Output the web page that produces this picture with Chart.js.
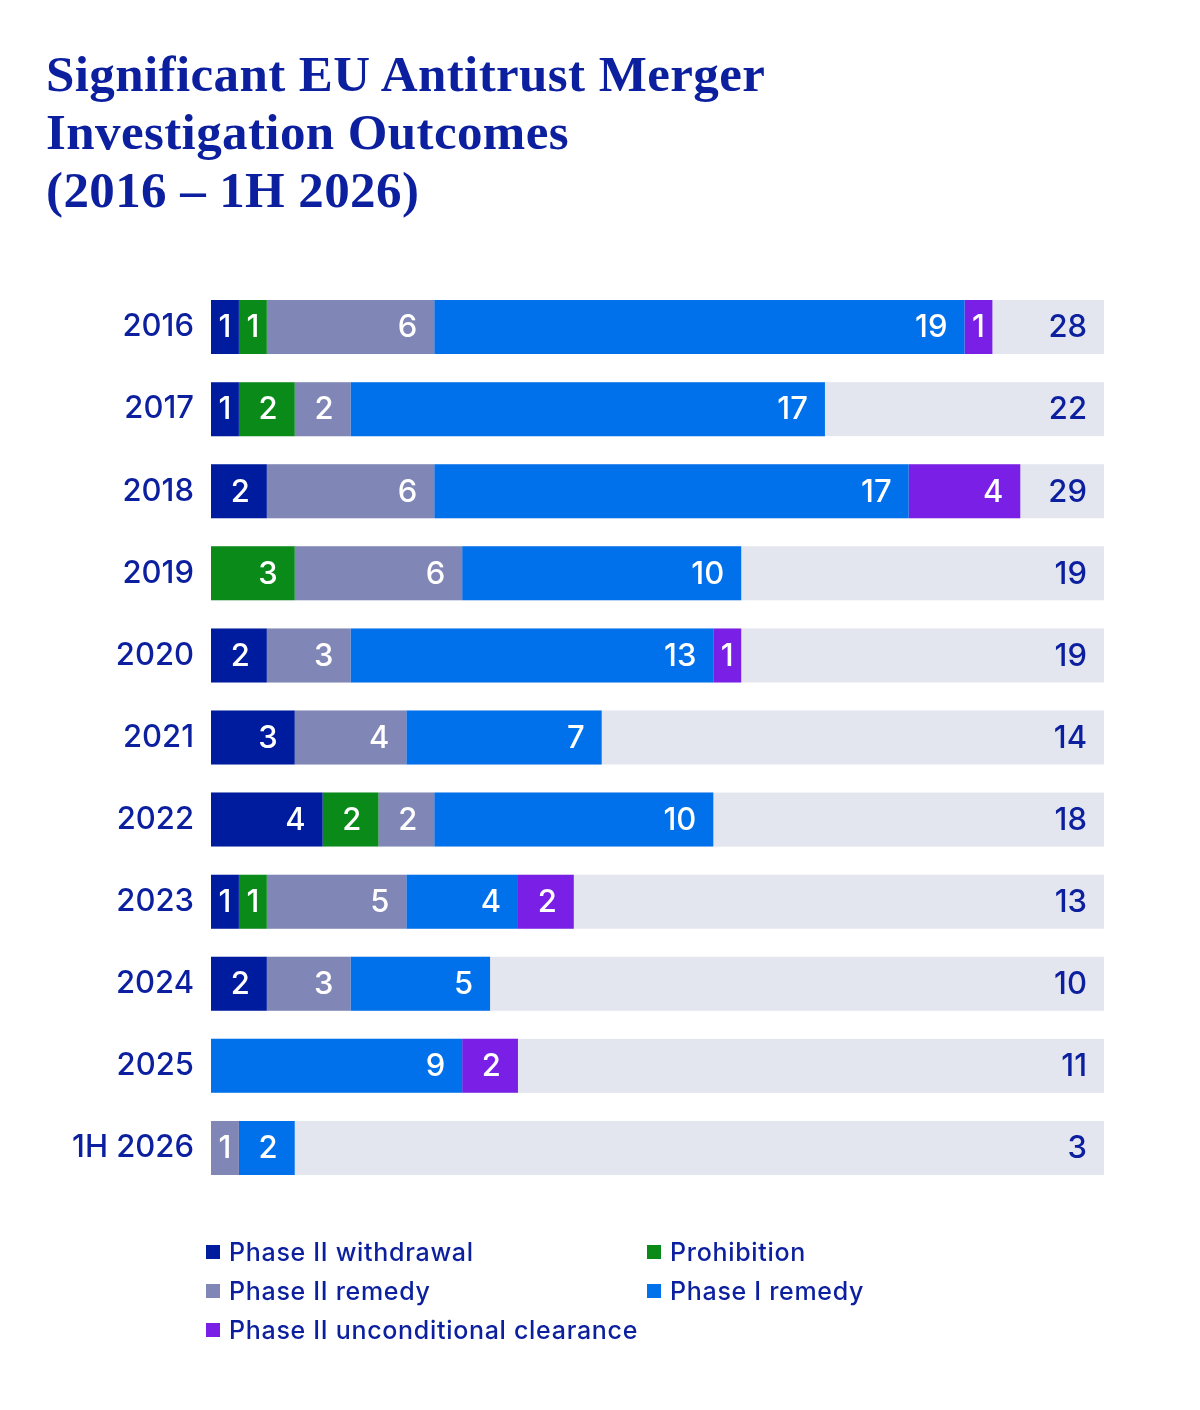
<!DOCTYPE html>
<html>
<head>
<meta charset="utf-8">
<script src="https://cdn.jsdelivr.net/npm/chart.js@4.4.1/dist/chart.umd.min.js"></script>
<style>
  body { margin: 0; background: #fff; }
  #wrap { position: relative; width: 1200px; height: 1410px; overflow: hidden; }
  #chart { position: absolute; left: 0; top: 0; }
  h1 {
    position: absolute; left: 46px; top: 45px; margin: 0;
    font-family: "Liberation Serif", "DejaVu Serif", serif; font-weight: bold;
    font-size: 51px; line-height: 58px; color: #0b1f9f; letter-spacing: 0.4px;
  }
  .lg { position: absolute; font-family: Inter, "Liberation Sans", sans-serif; font-weight: 500;
        font-size: 25px; letter-spacing: 0.7px; color: #0b1f9f; line-height: 28px; white-space: nowrap; }
  .lg i { position: absolute; left: -23px; top: 7px; width: 14px; height: 14px; }
</style>
</head>
<body>
<div id="wrap">
  <h1>Significant EU Antitrust Merger<br>Investigation Outcomes<br>(2016 – 1H 2026)</h1>
  <canvas id="chart" width="1200" height="1410"></canvas>
  <div id="legend"></div>
</div>
<script>
var years = ['2016','2017','2018','2019','2020','2021','2022','2023','2024','2025','1H 2026'];

var withdrawal    = [1, 1, 2, 0, 2, 3, 4, 1, 2, 0, 0];
var prohibition   = [1, 2, 0, 3, 0, 0, 2, 1, 0, 0, 0];
var phase2Remedy  = [6, 2, 6, 6, 3, 4, 2, 5, 3, 0, 1];
var phase1Remedy  = [19, 17, 17, 10, 13, 7, 10, 4, 5, 9, 2];
var unconditional = [1, 0, 4, 0, 1, 0, 0, 2, 0, 2, 0];
var totals        = [28, 22, 29, 19, 19, 14, 18, 13, 10, 11, 3];

var seriesNames  = ['Phase II withdrawal','Prohibition','Phase II remedy','Phase I remedy','Phase II unconditional clearance'];
var seriesColors = ['#001c9e','#0a8a18','#8087b6','#0071eb','#7a20e6'];
var axisMax = 32;

var navy = '#0b1f9f';
var labelFont = '500 31px Inter, "Liberation Sans", sans-serif';

// grey track behind every row
var trackPlugin = {
  id: 'track',
  beforeDatasetsDraw: function(chart) {
    var ctx = chart.ctx, area = chart.chartArea;
    var meta = chart.getDatasetMeta(0);
    ctx.save();
    ctx.fillStyle = '#e4e6ef';
    meta.data.forEach(function(el) {
      ctx.fillRect(area.left, el.y - el.height / 2, area.right - area.left, el.height);
    });
    ctx.restore();
  }
};

// numbers inside segments + totals at right
var labelPlugin = {
  id: 'labels',
  afterDatasetsDraw: function(chart) {
    var ctx = chart.ctx, area = chart.chartArea;
    ctx.save();
    ctx.font = labelFont;
    ctx.textBaseline = 'middle';
    chart.data.datasets.forEach(function(ds, di) {
      var meta = chart.getDatasetMeta(di);
      meta.data.forEach(function(el, i) {
        var v = ds.data[i];
        if (!v) return;
        ctx.fillStyle = '#ffffff';
        if (v == 1) {
          ctx.textAlign = 'center';
          ctx.fillText(v, (el.x + el.base) / 2, el.y + 1);
        } else {
          ctx.textAlign = 'right';
          ctx.fillText(v, el.x - 17, el.y + 1);
        }
      });
    });
    var meta0 = chart.getDatasetMeta(0);
    ctx.fillStyle = navy;
    ctx.textAlign = 'right';
    meta0.data.forEach(function(el, i) {
      ctx.fillText(totals[i], area.right - 17, el.y + 1);
    });
    ctx.restore();
  }
};

var allSeries = [withdrawal, prohibition, phase2Remedy, phase1Remedy, unconditional];
var datasets = allSeries.map(function(d, i) {
  return {
    label: seriesNames[i],
    data: d,
    backgroundColor: seriesColors[i],
    borderWidth: 0,
    categoryPercentage: 1,
    barPercentage: 0.658
  };
});

new Chart(document.getElementById('chart'), {
  type: 'bar',
  data: { labels: years, datasets: datasets },
  options: {
    indexAxis: 'y',
    responsive: false,
    animation: false,
    devicePixelRatio: 1,
    layout: { padding: { top: 286, bottom: 221, left: 0, right: 96 } },
    plugins: { legend: { display: false }, tooltip: { enabled: false } },
    scales: {
      x: { stacked: true, min: 0, max: axisMax, display: false },
      y: {
        stacked: true,
        grid: { display: false },
        border: { display: false },
        ticks: { color: navy, font: { family: 'Inter, "Liberation Sans", sans-serif', size: 31, weight: 500 }, padding: 9 },
        afterFit: function(scale) { scale.width = 211; }
      }
    }
  },
  plugins: [trackPlugin, labelPlugin]
});

// legend built from the same names/colours
var legendPos = [[229, 1238], [670, 1238], [229, 1277], [670, 1277], [229, 1316]];
var html = '';
seriesNames.forEach(function(name, k) {
  html += '<div class="lg" style="left:' + legendPos[k][0] + 'px;top:' + legendPos[k][1] + 'px">' +
          '<i style="background:' + seriesColors[k] + '"></i>' + name + '</div>';
});
document.getElementById('legend').innerHTML = html;
</script>
</body>
</html>
